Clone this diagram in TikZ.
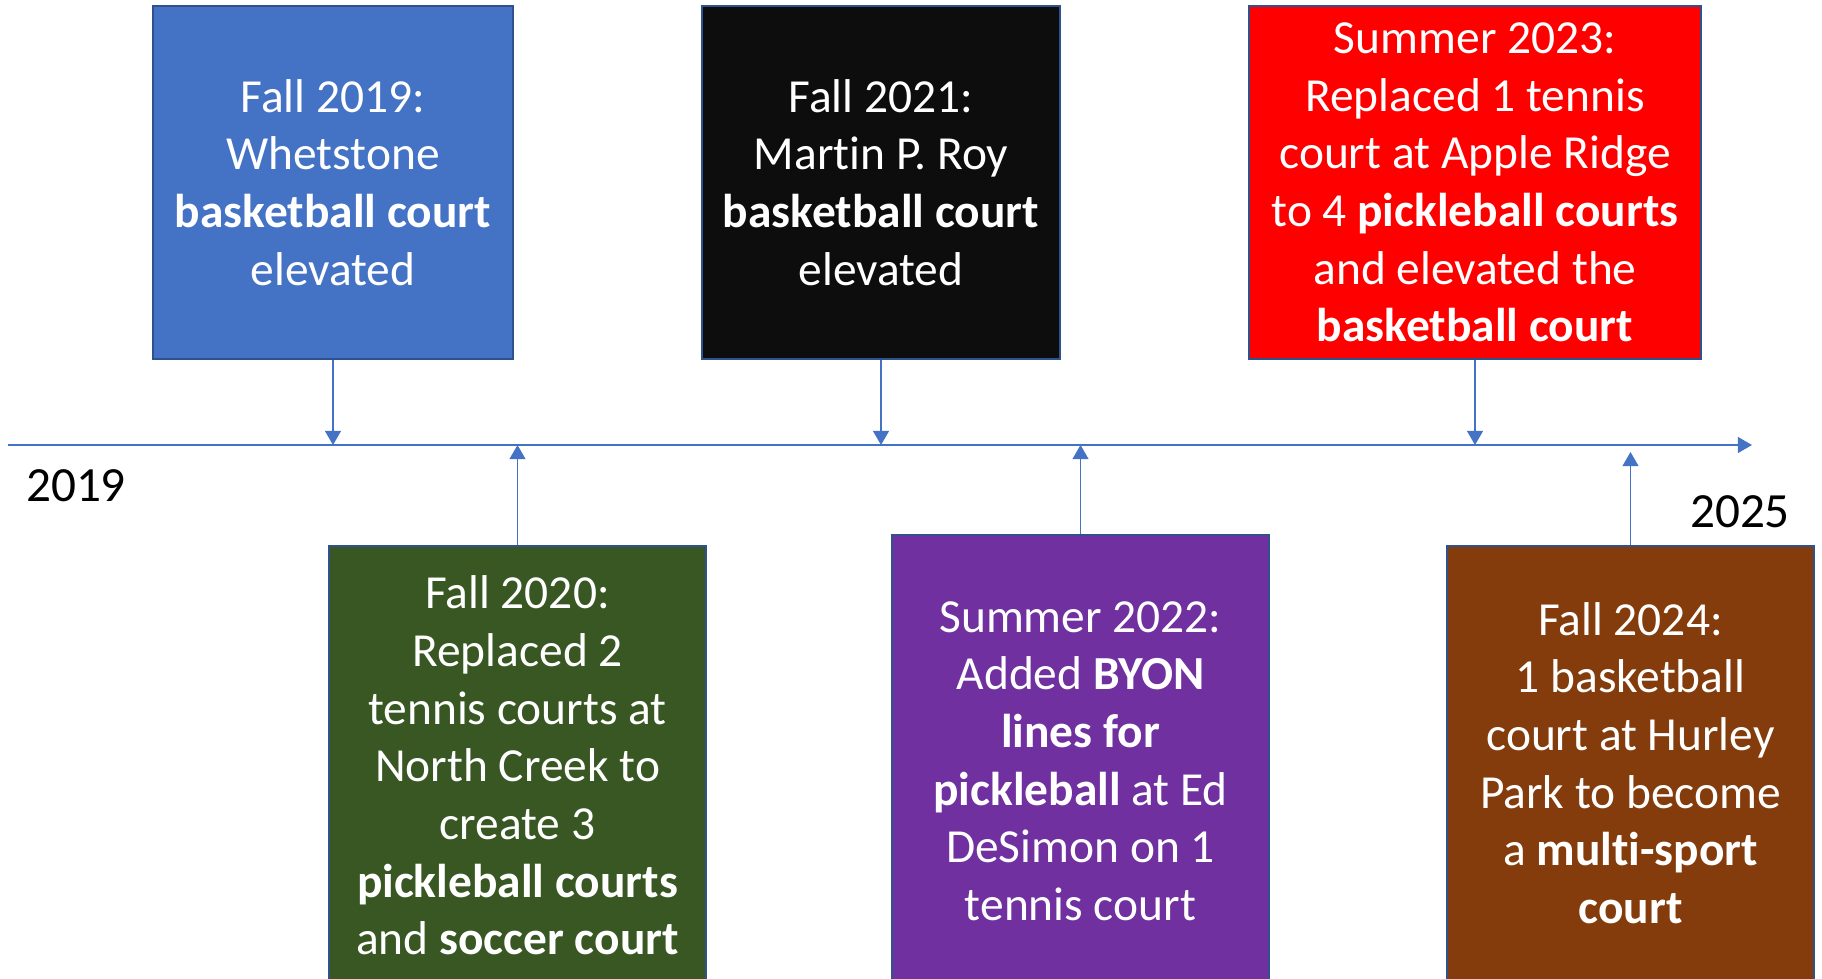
\documentclass[tikz,border=0pt]{standalone}
\usepackage{fontspec}
\setmainfont{Carlito}[Ligatures=CommonOff]
\usetikzlibrary{arrows.meta}

\definecolor{lineblue}{HTML}{4472C4}
\definecolor{edgeblue}{HTML}{2F528F}
\definecolor{boxblue}{HTML}{4472C4}
\definecolor{boxblack}{HTML}{0D0D0D}
\definecolor{boxred}{HTML}{FF0000}
\definecolor{boxgreen}{HTML}{385723}
\definecolor{boxpurple}{HTML}{7030A0}
\definecolor{boxbrown}{HTML}{843C0C}

\begin{document}
\begin{tikzpicture}[
  x=0.02cm, y=-0.02cm,
  >={Triangle[width=9pt,length=8pt]},
  every node/.style={font=\fontsize{27}{32.8}\selectfont},
  event/.style={draw=edgeblue, line width=1.2pt, text=white, align=center, inner sep=0pt},
  arrow/.style={->, draw=lineblue, line width=0.9pt},
  year/.style={font=\fontsize{28}{34}\selectfont}
]
  \useasboundingbox (0,0) rectangle (1822,978);

  %--- time axis
  \coordinate (start) at (8,445);
  \coordinate (end)   at (1752,445);
  \coordinate (below) at (8,452);
  \draw[arrow] (start) -- (end);
  \node[year] (y19) at (76,486)   {2019};
  \node[year] (y25) at (1740,512) {2025};

  %--- events above the axis
  \node[event, fill=boxblue, minimum width=7.2cm, minimum height=7.06cm] (fall19) at (333,182.5)
    {Fall 2019:\\Whetstone\\\textbf{basketball court}\\elevated};
  \node[event, fill=boxblack, minimum width=7.16cm, minimum height=7.06cm] (fall21) at (881,182.5)
    {Fall 2021:\\Martin P. Roy\\\textbf{basketball court}\\elevated};
  \node[event, fill=boxred, minimum width=9.04cm, minimum height=7.06cm] (sum23) at (1475,182.5)
    {Summer 2023:\\Replaced 1 tennis\\court at Apple Ridge\\to 4 \textbf{pickleball courts}\\and elevated the\\\textbf{basketball court}};

  %--- events below the axis
  \node[event, fill=boxgreen, minimum width=7.54cm, minimum height=8.78cm] (fall20) at (517.5,765.5)
    {Fall 2020:\\Replaced 2\\tennis courts at\\North Creek to\\create 3\\\textbf{pickleball courts}\\and \textbf{soccer court}};
  \node[event, fill=boxpurple, minimum width=7.54cm, minimum height=9.04cm] (sum22) at (1080.5,761)
    {Summer 2022:\\Added \textbf{BYON}\\\textbf{lines for}\\\textbf{pickleball} at Ed\\DeSimon on 1\\tennis court};
  \node[event, fill=boxbrown, minimum width=7.34cm, minimum height=8.68cm] (fall24) at (1630.5,763)
    {Fall 2024:\\1 basketball\\court at Hurley\\Park to become\\a \textbf{multi-sport}\\\textbf{court}};

  %--- pointers onto the axis
  \draw[arrow] (fall19.south) -- (fall19.south |- start);
  \draw[arrow] (fall21.south) -- (fall21.south |- start);
  \draw[arrow] (sum23.south)  -- (sum23.south |- start);
  \draw[arrow] (fall20.north) -- (fall20.north |- start);
  \draw[arrow] (sum22.north)  -- (sum22.north |- start);
  \draw[arrow] (fall24.north) -- (fall24.north |- below);
\end{tikzpicture}
\end{document}
